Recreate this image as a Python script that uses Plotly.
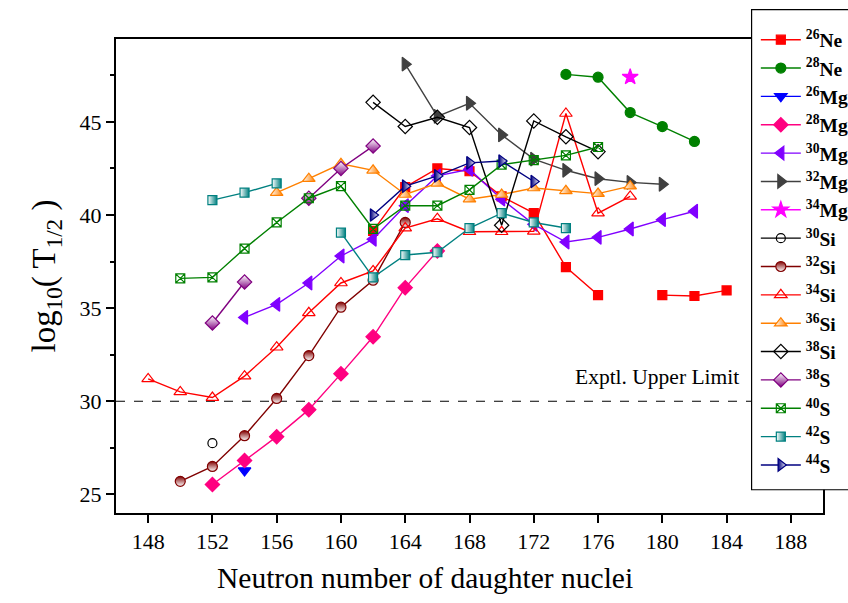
import plotly.graph_objects as go

# ---------------- data ----------------
n_26Ne = [162, 164, 166, 168, 170, 172, 174, 176, 178, 180, 182, 184]
v_26Ne = [39.15, 41.5, 42.5, 42.35, 41.0, 40.1, 37.2, 35.7, None, 35.7, 35.65, 35.95]

n_28Ne = [174, 176, 178, 180, 182]
v_28Ne = [47.55, 47.4, 45.5, 44.75, 43.95]

n_26Mg = [154]
v_26Mg = [26.28]

n_28Mg = [152, 154, 156, 158, 160, 162, 164, 166]
v_28Mg = [25.53, 26.82, 28.1, 29.55, 31.47, 33.46, 36.1, 38.07]

n_30Mg = [154, 156, 158, 160, 162, 164, 166, 168, 170, 172, 174, 176, 178, 180, 182]
v_30Mg = [34.5, 35.2, 36.35, 37.8, 38.7, 40.5, 42.1, 42.45, 40.85, 39.5, 38.55, 38.8, 39.25, 39.75, 40.2]

n_32Mg = [164, 166, 168, 170, 172, 174, 176, 178, 180]
v_32Mg = [48.1, 45.3, 46.0, 44.3, 43.0, 42.4, 41.95, 41.75, 41.65]

n_34Mg = [178]
v_34Mg = [47.41]

n_30Si = [152]
v_30Si = [27.75]

n_32Si = [150, 152, 154, 156, 158, 160, 162, 164]
v_32Si = [25.7, 26.5, 28.15, 30.15, 32.45, 35.05, 36.5, 39.6]

n_34Si = [148, 150, 152, 154, 156, 158, 160, 162, 164, 166, 168, 170, 172, 174, 176, 178]
v_34Si = [31.2, 30.5, 30.2, 31.35, 32.9, 34.75, 36.35, 37.0, 39.3, 39.8, 39.1, 39.1, 39.12, 45.45, 40.1, 41.0]

n_36Si = [156, 158, 160, 162, 164, 166, 168, 170, 172, 174, 176, 178]
v_36Si = [41.2, 41.95, 42.75, 42.4, 41.1, 41.7, 40.85, 41.1, 41.45, 41.3, 41.15, 41.55]

n_38Si = [162, 164, 166, 168, 170, 172, 174, 176]
v_38Si = [46.05, 44.75, 45.25, 44.7, 39.45, 45.05, 44.2, 43.4]

n_38S = [152, 154, 156, 158, 160, 162]
v_38S = [34.2, 36.4, None, 40.9, 42.5, 43.7]

n_40S = [150, 152, 154, 156, 158, 160, 162, 164, 166, 168, 170, 172, 174, 176]
v_40S = [36.6, 36.65, 38.2, 39.6, 40.9, 41.55, 39.25, 40.5, 40.5, 41.35, 42.7, 42.95, 43.2, 43.65]

n_42S = [152, 154, 156, 158, 160, 162, 164, 166, 168, 170, 172, 174]
v_42S = [40.8, 41.2, 41.7, None, 39.05, 36.65, 37.85, 38.0, 39.3, 40.1, 39.6, 39.3]

n_44S = [162, 164, 166, 168, 170, 172]
v_44S = [40.0, 41.55, 42.1, 42.8, 42.9, 41.8]

limit_value = 30
limit_label = "Exptl. Upper Limit"

FONT = "Liberation Serif"

# name, x, y, color, symbol, size, half-fill gradient (type, fill, gradient colour)
series = [
    ("<sup>26</sup>Ne", n_26Ne, v_26Ne, "#FF0000", "square", 9, None),
    ("<sup>28</sup>Ne", n_28Ne, v_28Ne, "#008000", "circle", 10, None),
    ("<sup>26</sup>Mg", n_26Mg, v_26Mg, "#0000FF", "triangle-down", 11, None),
    ("<sup>28</sup>Mg", n_28Mg, v_28Mg, "#FF0080", "diamond", 11, None),
    ("<sup>30</sup>Mg", n_30Mg, v_30Mg, "#8000FF", "triangle-left", 12, None),
    ("<sup>32</sup>Mg", n_32Mg, v_32Mg, "#404040", "triangle-right", 12, None),
    ("<sup>34</sup>Mg", n_34Mg, v_34Mg, "#FF00FF", "star", 12, None),
    ("<sup>30</sup>Si", n_30Si, v_30Si, "#000000", "circle-open", 9, None),
    ("<sup>32</sup>Si", n_32Si, v_32Si, "#800000", "circle", 10, ("vertical", "#800000", "#FFFFFF")),
    ("<sup>34</sup>Si", n_34Si, v_34Si, "#FF0000", "triangle-up-open", 11, None),
    ("<sup>36</sup>Si", n_36Si, v_36Si, "#FF8000", "triangle-up", 11, ("horizontal", "#FFFFFF", "#FF8000")),
    ("<sup>38</sup>Si", n_38Si, v_38Si, "#000000", "diamond-open", 11, None),
    ("<sup>38</sup>S", n_38S, v_38S, "#800080", "diamond", 11, ("vertical", "#FFFFFF", "#800080")),
    ("<sup>40</sup>S", n_40S, v_40S, "#008000", "square-x-open", 9, None),
    ("<sup>42</sup>S", n_42S, v_42S, "#008080", "square", 9, ("horizontal", "#FFFFFF", "#008080")),
    ("<sup>44</sup>S", n_44S, v_44S, "#000080", "triangle-right", 11, ("horizontal", "#000080", "#FFFFFF")),
]

fig = go.Figure()
for i, (name, xs, ys, col, sym, size, grad) in enumerate(series):
    marker = dict(symbol=sym, size=size, color=col, line=dict(color=col, width=1.2))
    if grad is not None:
        gtype, fillc, gradc = grad
        marker["color"] = fillc
        marker["gradient"] = dict(type=gtype, color=gradc)
    fig.add_trace(go.Scatter(
        x=xs, y=ys, name=name, mode="lines+markers",
        line=dict(color=col, width=1.4),
        marker=marker, connectgaps=False,
    ))

# experimental upper limit
fig.add_hline(y=limit_value, line=dict(color="black", width=1.2, dash="dash"), layer="below")
fig.add_annotation(x=184.9, y=31.3, text=limit_label, showarrow=False,
                   xanchor="right", yanchor="middle",
                   font=dict(family=FONT, size=21.5, color="black"))

# x-axis title (offset to the left as in the reference)
fig.add_annotation(xref="paper", yref="paper", x=0.437, y=-0.137,
                   text="Neutron number of daughter nuclei", showarrow=False,
                   xanchor="center", yanchor="middle",
                   font=dict(family=FONT, size=29.5, color="black"))

# legend frame
fig.add_shape(type="rect", xref="paper", yref="paper", x0=0.899, x1=1.2, y0=0.049, y1=1.062,
              line=dict(color="black", width=1.2), fillcolor="white", layer="above")

axis_common = dict(showline=True, linecolor="black", linewidth=2, mirror=True,
                   ticks="outside", tickcolor="black", tickwidth=2, ticklen=8,
                   tickfont=dict(family=FONT, size=22, color="black"),
                   showgrid=False, zeroline=False)

fig.update_xaxes(range=[146, 190], tick0=148, dtick=4, **axis_common)
fig.update_yaxes(range=[24.0, 49.45], tick0=25, dtick=5,
                 minor=dict(dtick=2.5, ticks="outside", ticklen=4, tickcolor="black", tickwidth=2),
                 title=dict(text="log<sub>10</sub>( T<sub>1/2</sub> )",
                            font=dict(family=FONT, size=33, color="black"), standoff=14),
                 **axis_common)

fig.update_layout(
    width=848, height=603,
    margin=dict(l=116, r=25, t=39, b=90, autoexpand=False),
    paper_bgcolor="white", plot_bgcolor="white",
    font=dict(family=FONT, color="black"),
    legend=dict(x=0.905, y=1.039, xanchor="left", yanchor="top",
                bgcolor="rgba(0,0,0,0)", borderwidth=0, maxheight=600,
                font=dict(family=FONT, size=19.5, color="black", weight="bold"),
                itemwidth=40),
    showlegend=True,
)

fig.write_html("out.html")
